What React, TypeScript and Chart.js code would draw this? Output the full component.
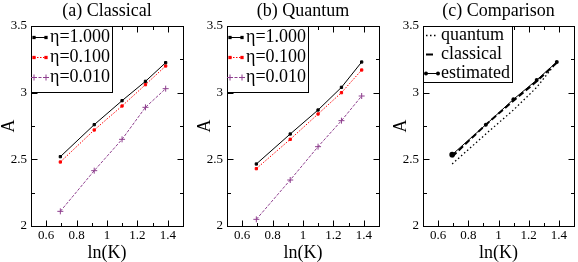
import React, { useEffect, useRef } from "react";
import { Chart, registerables } from "chart.js";

Chart.register(...registerables);

// ---------- data ----------
const lnK = [0.693, 0.916, 1.099, 1.253, 1.386];

const classicalEta1 = [2.52, 2.76, 2.94, 3.085, 3.225];
const classicalEta01 = [2.48, 2.72, 2.9, 3.06, 3.2];
const classicalEta001 = [2.11, 2.415, 2.65, 2.89, 3.03];

const quantumEta1 = [2.465, 2.69, 2.87, 3.04, 3.23];
const quantumEta01 = [2.43, 2.65, 2.84, 3.0, 3.17];
const quantumEta001 = [2.05, 2.345, 2.595, 2.79, 2.975];

const compQuantum = [2.465, 2.69, 2.87, 3.04, 3.23];
const compClassical = [2.52, 2.76, 2.94, 3.085, 3.225];
const compEstimated = [2.535, 2.76, 2.95, 3.095, 3.23];

const etaLabels = ["η=1.000", "η=0.100", "η=0.010"];
const compLabels = ["quantum", "classical", "estimated"];
const panelTitles = ["(a) Classical", "(b) Quantum", "(c) Comparison"];

const xTicks = [0.6, 0.8, 1, 1.2, 1.4];
const xMinor = [0.7, 0.9, 1.1, 1.3];
const yTicks = [2, 2.5, 3, 3.5];
const yMinor = [2.25, 2.75, 3.25];

const xTitle = "ln(K)";
const yTitle = "A";

// ---------- styles ----------
const FONT = "'Liberation Serif', 'Times New Roman', serif";
const BLACK = "#000000";
const RED = "#ff0000";
const PURPLE = "#8e3f8e";

const pts = (ys: number[]) => ys.map((y, i) => ({ x: lnK[i], y }));

function etaDatasets(a: number[], b: number[], c: number[]) {
  return [
    {
      label: etaLabels[0],
      data: pts(a),
      borderColor: BLACK,
      backgroundColor: BLACK,
      borderWidth: 1,
      borderDash: [],
      pointStyle: "rect",
      pointRadius: 1.6,
      pointBorderWidth: 1,
      pointBackgroundColor: BLACK,
      pointBorderColor: BLACK,
    },
    {
      label: etaLabels[1],
      data: pts(b),
      borderColor: RED,
      backgroundColor: RED,
      borderWidth: 1,
      borderDash: [1.5, 1.5],
      pointStyle: "rect",
      pointRadius: 1.6,
      pointBorderWidth: 1,
      pointBackgroundColor: RED,
      pointBorderColor: RED,
    },
    {
      label: etaLabels[2],
      data: pts(c),
      borderColor: PURPLE,
      backgroundColor: PURPLE,
      borderWidth: 1,
      borderDash: [3, 1.5],
      pointStyle: "cross",
      pointRadius: 3,
      pointBorderWidth: 1,
      pointBackgroundColor: PURPLE,
      pointBorderColor: PURPLE,
    },
  ];
}

function compDatasets() {
  return [
    {
      label: compLabels[0],
      data: pts(compQuantum),
      borderColor: BLACK,
      backgroundColor: BLACK,
      borderWidth: 1.3,
      borderDash: [1.5, 2.5],
      pointRadius: 0,
      legendDash: [1.5, 2.5],
      legendMarkers: false,
    },
    {
      label: compLabels[1],
      data: pts(compClassical),
      borderColor: BLACK,
      backgroundColor: BLACK,
      borderWidth: 2,
      borderDash: [6, 3],
      pointRadius: 0,
      legendDash: [7, 20],
      legendMarkers: false,
    },
    {
      label: compLabels[2],
      data: pts(compEstimated),
      borderColor: BLACK,
      backgroundColor: BLACK,
      borderWidth: 1,
      borderDash: [],
      pointStyle: "circle",
      pointRadius: [2.8, 2, 2, 2, 2],
      pointBorderWidth: 0,
      pointBackgroundColor: BLACK,
      pointBorderColor: BLACK,
      legendDash: [],
      legendMarkers: true,
    },
  ];
}

// ---------- plugins ----------
const frameTicks = {
  id: "frameTicks",
  afterDatasetsDraw(chart: any) {
    const { ctx, chartArea: ca, scales } = chart;
    const xs = scales.x;
    const ys = scales.y;
    const L = ca.left + 0.5;
    const R = ca.right + 0.5;
    const T = ca.top + 0.5;
    const B = ca.bottom + 0.5;
    ctx.save();
    ctx.strokeStyle = BLACK;
    ctx.lineWidth = 1;
    ctx.setLineDash([]);
    ctx.strokeRect(L, T, R - L, B - T);
    ctx.beginPath();
    const xt = (vals: number[], len: number) => {
      vals.forEach((v) => {
        const p = Math.round(xs.getPixelForValue(v)) + 0.5;
        ctx.moveTo(p, B);
        ctx.lineTo(p, B - len);
        ctx.moveTo(p, T);
        ctx.lineTo(p, T + len);
      });
    };
    const yt = (vals: number[], len: number) => {
      vals.forEach((v) => {
        const p = Math.round(ys.getPixelForValue(v)) + 0.5;
        ctx.moveTo(L, p);
        ctx.lineTo(L + len, p);
        ctx.moveTo(R, p);
        ctx.lineTo(R - len, p);
      });
    };
    xt(xTicks, 6);
    xt(xMinor, 3.5);
    yt(yTicks, 6);
    yt(yMinor, 3.5);
    ctx.stroke();
    ctx.restore();
  },
};

function drawMarker(ctx: any, style: string, x: number, y: number, r: number, color: string) {
  ctx.save();
  ctx.setLineDash([]);
  ctx.fillStyle = color;
  ctx.strokeStyle = color;
  ctx.lineWidth = 1;
  if (style === "rect") {
    const s = r * Math.SQRT1_2 + 0.5;
    ctx.fillRect(x - s, y - s, 2 * s, 2 * s);
  } else if (style === "cross") {
    ctx.beginPath();
    ctx.moveTo(x - r, y);
    ctx.lineTo(x + r, y);
    ctx.moveTo(x, y - r);
    ctx.lineTo(x, y + r);
    ctx.stroke();
  } else if (style === "circle") {
    ctx.beginPath();
    ctx.arc(x, y, r, 0, Math.PI * 2);
    ctx.fill();
  }
  ctx.restore();
}

const boxLegend = {
  id: "boxLegend",
  afterDraw(chart: any, _args: any, opts: any) {
    const { ctx, chartArea: ca } = chart;
    const x0 = ca.left + 0.5;
    const y0 = ca.top + 0.5;
    ctx.save();
    ctx.fillStyle = "#ffffff";
    ctx.fillRect(x0, y0, opts.w, opts.h);
    ctx.strokeStyle = BLACK;
    ctx.lineWidth = 1;
    ctx.setLineDash([]);
    ctx.strokeRect(x0, y0, opts.w, opts.h);
    chart.data.datasets.forEach((ds: any, i: number) => {
      const yc = Math.round(ca.top + opts.first + i * opts.rowH) + 0.5;
      const sx0 = ca.left + opts.sampleStart;
      const sx1 = ca.left + opts.sampleEnd;
      ctx.save();
      ctx.strokeStyle = ds.borderColor;
      ctx.lineWidth = ds.borderWidth;
      ctx.setLineDash(ds.legendDash !== undefined ? ds.legendDash : ds.borderDash || []);
      ctx.beginPath();
      ctx.moveTo(sx0, yc);
      ctx.lineTo(sx1, yc);
      ctx.stroke();
      ctx.restore();
      const hasMarkers = ds.legendMarkers !== undefined ? ds.legendMarkers : true;
      if (hasMarkers && ds.pointStyle) {
        const r = Array.isArray(ds.pointRadius) ? ds.pointRadius[1] : ds.pointRadius;
        drawMarker(ctx, ds.pointStyle, sx0, yc, r, ds.borderColor);
        drawMarker(ctx, ds.pointStyle, sx1, yc, r, ds.borderColor);
      }
      ctx.fillStyle = BLACK;
      ctx.font = `${opts.fontSize}px ${FONT}`;
      ctx.textAlign = "left";
      ctx.textBaseline = "middle";
      ctx.fillText(ds.label, ca.left + opts.textX, yc);
    });
    ctx.restore();
  },
};

// ---------- panel ----------
type PanelProps = {
  title: string;
  datasets: any[];
  left: number;
  width: number;
  padRight: number;
  legend: any;
};

function Panel({ title, datasets, left, width, padRight, legend }: PanelProps) {
  const ref = useRef<HTMLCanvasElement | null>(null);
  useEffect(() => {
    if (!ref.current) return;
    const tickFont = { family: FONT, size: 13 };
    const titleFont = { family: FONT, size: 18, lineHeight: 1 };
    const chart = new Chart(ref.current, {
      type: "line",
      data: { datasets },
      plugins: [frameTicks, boxLegend],
      options: {
        animation: false,
        responsive: false,
        devicePixelRatio: 1,
        layout: { padding: { left: 0, right: padRight, top: 0, bottom: 0 } },
        elements: { line: { tension: 0, fill: false } },
        plugins: {
          legend: { display: false },
          tooltip: { enabled: false },
          title: {
            display: true,
            text: title,
            fullSize: false,
            color: BLACK,
            font: { family: FONT, size: 18, weight: "normal", lineHeight: 1.2 },
            padding: { top: 0, bottom: 4.4 },
          },
          boxLegend: legend,
        } as any,
        scales: {
          x: {
            type: "linear",
            min: 0.5,
            max: 1.5,
            afterBuildTicks: (s: any) => {
              s.ticks = xTicks.map((v) => ({ value: v }));
            },
            afterFit: (s: any) => {
              s.height = 36;
            },
            grid: { display: false, drawTicks: false, tickLength: 0 },
            border: { display: false },
            ticks: {
              autoSkip: false,
              maxRotation: 0,
              color: BLACK,
              font: tickFont,
              padding: 2,
              callback: (v: any) => String(v),
            },
            title: { display: true, text: xTitle, color: BLACK, font: titleFont, padding: 0 },
          },
          y: {
            type: "linear",
            min: 2,
            max: 3.5,
            afterBuildTicks: (s: any) => {
              s.ticks = yTicks.map((v) => ({ value: v }));
            },
            afterFit: (s: any) => {
              s.width = 31;
            },
            grid: { display: false, drawTicks: false, tickLength: 0 },
            border: { display: false },
            ticks: {
              autoSkip: false,
              color: BLACK,
              font: tickFont,
              padding: 4,
              callback: (v: any) => String(v),
            },
            title: { display: true, text: yTitle, color: BLACK, font: titleFont, padding: 0 },
          },
        },
      } as any,
    });
    return () => chart.destroy();
  }, []);
  return (
    <canvas
      ref={ref}
      width={width}
      height={262}
      style={{ position: "absolute", left, top: 0, width, height: 262 }}
    />
  );
}

export default function App() {
  const etaLegend = { w: 81, h: 66, first: 11, rowH: 20, sampleStart: 3, sampleEnd: 15, textX: 19, fontSize: 18 };
  const compLegend = { w: 89, h: 56, first: 9, rowH: 19, sampleStart: 3, sampleEnd: 15, textX: 18, fontSize: 18 };
  return (
    <div style={{ position: "absolute", left: 0, top: 0, width: 578, height: 262, background: "#ffffff" }}>
      <Panel
        title={panelTitles[0]}
        datasets={etaDatasets(classicalEta1, classicalEta01, classicalEta001)}
        left={0}
        width={196}
        padRight={13}
        legend={etaLegend}
      />
      <Panel
        title={panelTitles[1]}
        datasets={etaDatasets(quantumEta1, quantumEta01, quantumEta001)}
        left={196}
        width={196}
        padRight={13}
        legend={etaLegend}
      />
      <Panel
        title={panelTitles[2]}
        datasets={compDatasets()}
        left={392}
        width={186}
        padRight={3}
        legend={compLegend}
      />
    </div>
  );
}
